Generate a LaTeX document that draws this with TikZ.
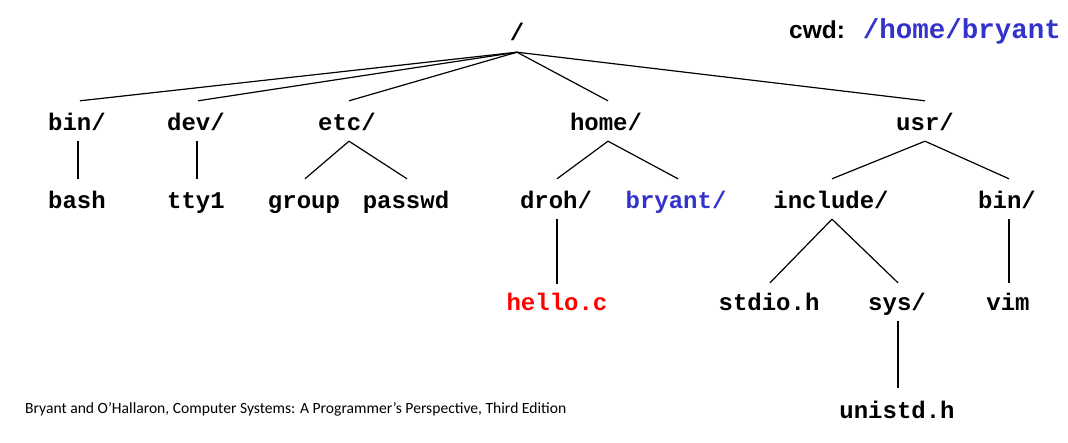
\documentclass[tikz,border=0pt]{standalone}
\usepackage{fontspec}
\newfontfamily\treefont{Liberation Mono}
\newfontfamily\cwdfont{Liberation Sans}
\newfontfamily\footfont{Carlito}
\definecolor{dirblue}{RGB}{51,51,204}
\definecolor{filered}{RGB}{255,0,0}
\begin{document}
\begin{tikzpicture}[x=1pt,y=1pt,
  entry/.style={anchor=base,inner xsep=0pt,inner ysep=0pt,text height=30pt,text depth=10pt,
    font=\treefont\bfseries\fontsize{24}{24}\selectfont},
  link/.style={line width=1.2pt,black}]
\useasboundingbox[fill=white] (0,0) rectangle (1068,442);
% root and cwd
\node[entry,text depth=11pt] (root) at (517,401) {/};
\node[anchor=base west,inner sep=0pt,font=\cwdfont\bfseries\fontsize{24.5}{24.5}\selectfont] (cwdlabel) at (789,403) {cwd:};
\node[anchor=base east,inner sep=0pt,text=dirblue,font=\treefont\bfseries\fontsize{27.5}{27.5}\selectfont] (cwdpath) at (1061,403) {/home/bryant};
% level 1
\node[entry] (bin) at (77,311) {bin/};
\node[entry] (dev) at (196,311) {dev/};
\node[entry] (etc) at (347,311) {etc/};
\node[entry] (home) at (606,311) {home/};
\node[entry] (usr) at (925,311) {usr/};
% level 2
\node[entry] (bash) at (77,233) {bash};
\node[entry] (tty) at (196,233) {tty1};
\node[entry] (group) at (304,233) {group};
\node[entry] (passwd) at (406,233) {passwd};
\node[entry] (droh) at (556,233) {droh/};
\node[entry,text=dirblue] (bryant) at (676,233) {bryant/};
\node[entry] (include) at (831,233) {include/};
\node[entry] (ubin) at (1007,233) {bin/};
% level 3
\node[entry,text=filered,text height=27pt] (hello) at (557,131) {hello.c};
\node[entry,text height=28pt] (stdio) at (769,131) {stdio.h};
\node[entry,text height=28pt] (sys) at (897,131) {sys/};
\node[entry,text height=28pt] (vim) at (1008,131) {vim};
% level 4
\node[entry] (unistd) at (897,24) {unistd.h};
% footer
\node[anchor=base west,inner sep=0pt,font=\footfont\fontsize{15.6}{15.6}\selectfont] (footer) at (25,29)
  {Bryant and O’Hallaron, Computer Systems: A Programmer’s Perspective, Third Edition};
% connectors
\draw[link] (root.south) -- ([xshift=3pt]bin.north);
\draw[link] (root.south) -- ([xshift=2pt]dev.north);
\draw[link] (root.south) -- ([xshift=2pt]etc.north);
\draw[link] (root.south) -- ([xshift=2pt]home.north);
\draw[link] (root.south) -- (usr.north);
\draw[link] ([xshift=1pt]bin.south) -- ([xshift=1pt]bash.north);
\draw[link] ([xshift=1pt]dev.south) -- ([xshift=1pt]tty.north);
\draw[link] ([xshift=2pt]etc.south) -- ([xshift=1pt]group.north);
\draw[link] ([xshift=2pt]etc.south) -- ([xshift=1pt]passwd.north);
\draw[link] ([xshift=2pt]home.south) -- ([xshift=1pt]droh.north);
\draw[link] ([xshift=2pt]home.south) -- ([xshift=2pt]bryant.north);
\draw[link] (usr.south) -- ([xshift=1pt]include.north);
\draw[link] (usr.south) -- ([xshift=2pt]ubin.north);
\draw[link] ([xshift=1pt]droh.south) -- (hello.north);
\draw[link] ([xshift=1pt]include.south) -- ([xshift=1pt]stdio.north);
\draw[link] ([xshift=1pt]include.south) -- ([xshift=1pt]sys.north);
\draw[link] ([xshift=2pt]ubin.south) -- ([xshift=1pt]vim.north);
\draw[link] ([xshift=1pt]sys.south) -- ([xshift=1pt]unistd.north);
\end{tikzpicture}
\end{document}
